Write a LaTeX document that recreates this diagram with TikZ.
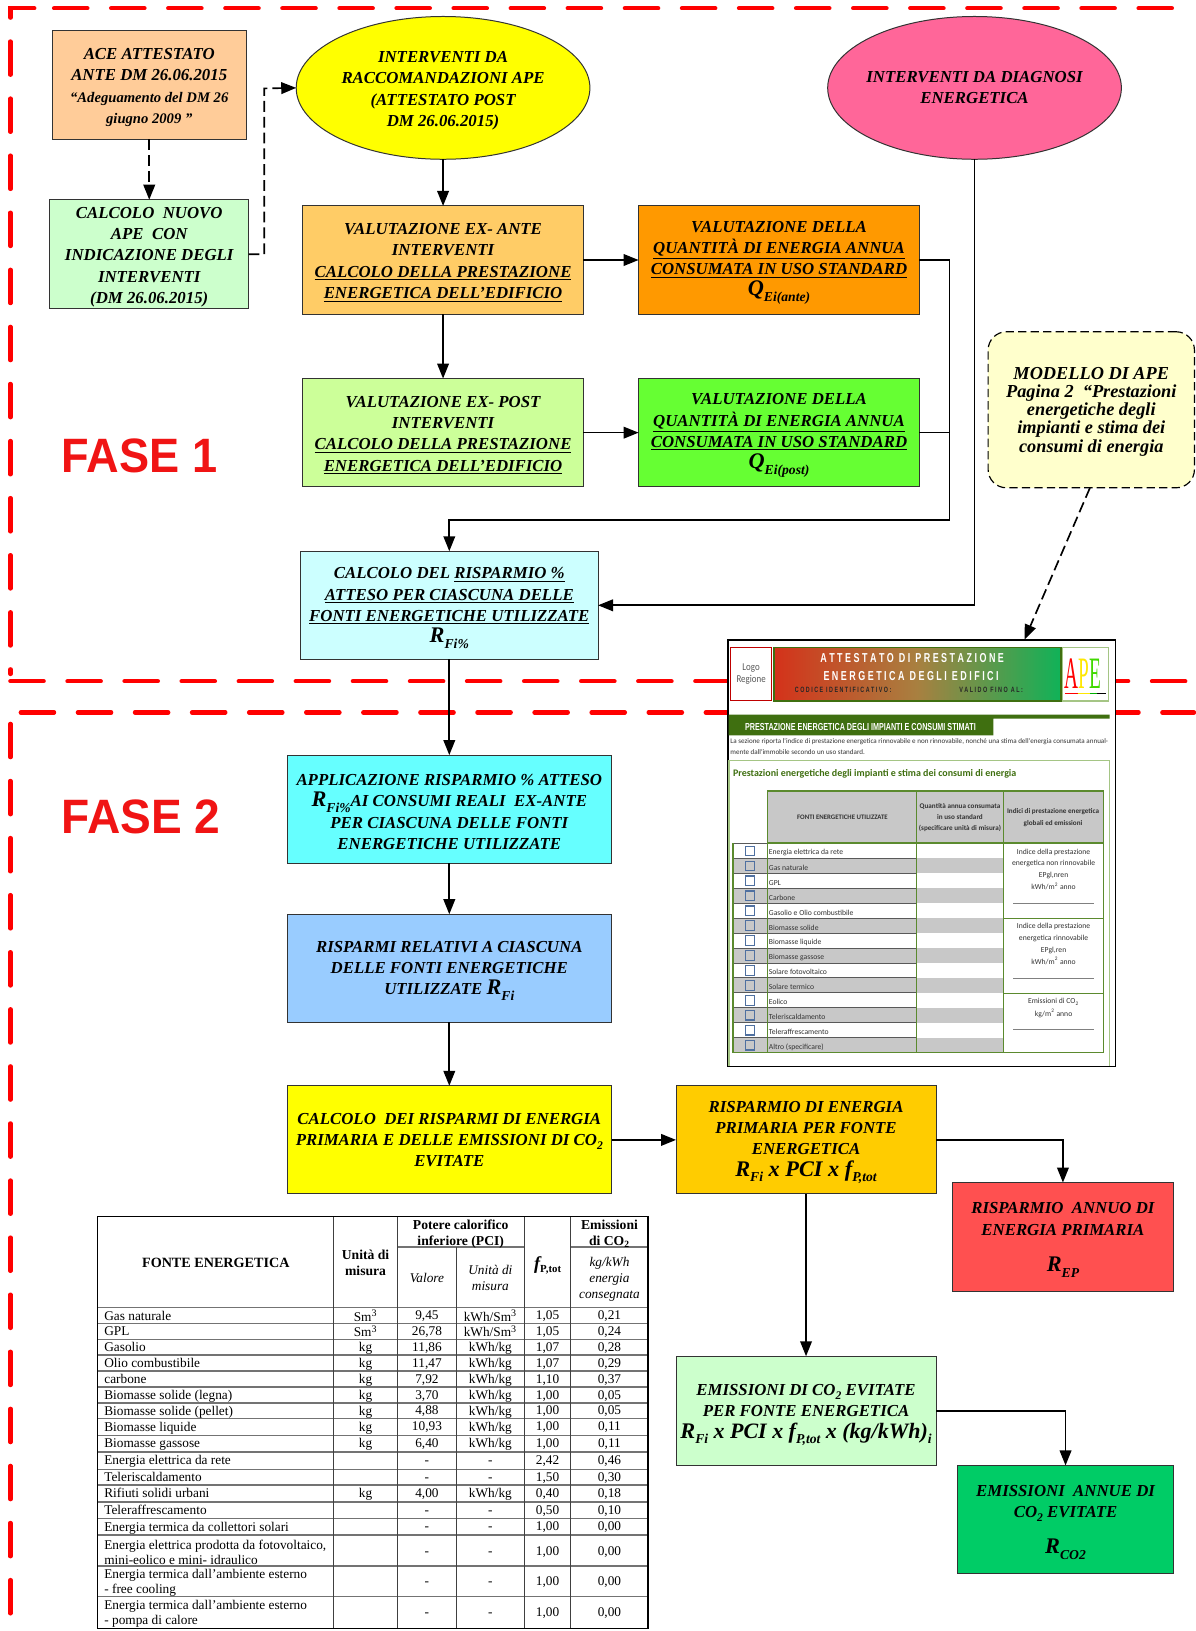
\documentclass[tikz,border=0pt]{standalone}
\usepackage{fontspec}
\usepackage{graphicx}
\setmainfont{Liberation Serif}
\newfontfamily\hvfont{Liberation Sans}
\newfontfamily\apefont{Carlito}
\usetikzlibrary{arrows.meta,shapes.geometric,fit,calc}
\definecolor{fase}{HTML}{F01414}
\definecolor{cYel}{HTML}{FFFF00}
\definecolor{cAce}{HTML}{FFCC99}
\definecolor{cMint}{HTML}{CCFFCC}
\definecolor{cPink}{HTML}{FF6699}
\definecolor{cExa}{HTML}{FFCC66}
\definecolor{cOra}{HTML}{FF9900}
\definecolor{cLime}{HTML}{CCFF99}
\definecolor{cGrn}{HTML}{66FF33}
\definecolor{cNote}{HTML}{FFFFCC}
\definecolor{cPale}{HTML}{CCFFFF}
\definecolor{cCyan}{HTML}{66FFFF}
\definecolor{cSky}{HTML}{99CCFF}
\definecolor{cAmb}{HTML}{FFCC00}
\definecolor{cRed}{HTML}{FF5050}
\definecolor{cEmer}{HTML}{00CC66}
\definecolor{aDark}{HTML}{3F6F10}
\definecolor{aGrn}{HTML}{5B8A2E}
\definecolor{aLight}{HTML}{A5C585}
\definecolor{aGray}{HTML}{C8C8C8}
\definecolor{aBlue}{HTML}{4F70A0}
\definecolor{bnL}{HTML}{D4321A}
\definecolor{bnM}{HTML}{A88040}
\definecolor{bnR}{HTML}{10B258}
\definecolor{pureRed}{HTML}{FF0000}
\tikzset{
  redline/.style={draw=pureRed,line width=2.6pt,line cap=round,dash pattern=on 20pt off 14.3pt},
  bx/.style={draw=black!80,line width=.6pt,inner sep=0pt,outer sep=0pt,align=center,
    font=\fontsize{10.1}{12.75}\selectfont\bfseries\itshape},
  elli/.style={ellipse,draw=black!80,line width=.6pt,inner sep=0pt,outer sep=0pt,align=center,
    minimum width=176.5pt,minimum height=85.8pt,font=\fontsize{10.1}{12.75}\selectfont\bfseries\itshape},
  arr/.style={draw=black,line width=1pt,-{Triangle[length=9pt,width=7pt]}},
  lin/.style={draw=black,line width=1pt},
  darr/.style={draw=black,line width=1pt,dash pattern=on 6.5pt off 3pt,-{Triangle[length=9pt,width=7pt]}},
  fasetxt/.style={text=fase,font=\hvfont\fontsize{29}{29}\selectfont\bfseries,anchor=west,inner sep=0pt},
  tc/.style={inner sep=0pt,font=\fontsize{8}{9}\selectfont},
  tb/.style={inner sep=0pt,align=center,font=\fontsize{8.2}{9.6}\selectfont\bfseries},
  ti/.style={inner sep=0pt,align=center,font=\fontsize{8}{9.6}\selectfont\itshape},
  hrule/.style={draw=black!55,line width=.85pt},
  vrule/.style={draw=black!75,line width=.6pt},
  ap/.style={inner sep=0pt,font=\apefont\fontsize{4.6}{5}\selectfont,text=black!80},
}
\newcommand\Fm[2]{{\fontsize{13.4}{13.4}\selectfont #1}\raisebox{-3.5pt}{\fontsize{8.2}{8.2}\selectfont #2}}
\newcommand\Up{\rule{0pt}{10pt}}
\newcommand\BX[7]{\node[bx,fill=#6,minimum width={(#4-#2)*0.625pt},minimum height={(#5-#3)*0.625pt}] (#1) at ({(#2+#4)/2},{(#3+#5)/2}) {\Up #7};}
\newcommand\TR[8]{%
  \node[tc,anchor=west,align=left] (#1n) at (100,#2+1) {\vphantom{Ag}#3};
  \node[tc] (#1u) at (351.5,#2+1) {\vphantom{Ag}#4};
  \node[tc] (#1v) at (410.5,#2+1) {\vphantom{Ag}#5};
  \node[tc] (#1m) at (471.5,#2+1) {\vphantom{Ag}#6};
  \node[tc] (#1f) at (526.5,#2+1) {\vphantom{Ag}#7};
  \node[tc] (#1e) at (586,#2+1) {\vphantom{Ag}#8};
}
\newcommand\SmT{Sm\textsuperscript{3}}
\newcommand\CTwo{\raisebox{-2.5pt}{\fontsize{7}{7}\selectfont 2}}
\begin{document}
\begin{tikzpicture}[x=0.625pt,y=-0.625pt]
\useasboundingbox (0,0) rectangle (1149.1,1568.2);
\fill[white] (0,0) rectangle (1149.1,1568.2);
% phase borders
\draw[redline] (33,8) -- (10,8) -- (10,648);
\draw[redline] (52,8) -- (1131,8);
\draw[redline] (10,655) -- (1143,655);
\draw[redline] (20,685) -- (1148,685);
\draw[redline] (10,696) -- (10,1568);
\node[fasetxt] (f1) at (59,438) {\scalebox{.935}[1]{FASE 1}};
\node[fasetxt] (f2) at (59,785) {\scalebox{.955}[1]{FASE 2}};
% boxes
\BX{ace}{50}{29}{237}{134}{cAce}{ACE ATTESTATO\\ANTE DM 26.06.2015\\{\fontsize{8.8}{12.75}\selectfont “Adeguamento del DM 26}\\{\fontsize{8.8}{12.75}\selectfont giugno 2009 ”}}
\BX{nuovo}{48}{192}{239}{297}{cMint}{CALCOLO\ \ NUOVO\\APE\ \ CON\\INDICAZIONE DEGLI\\INTERVENTI\\(DM 26.06.2015)}
\node[elli,fill=cYel] (rac) at (426,84.5) {\Up INTERVENTI DA\\RACCOMANDAZIONI APE\\(ATTESTATO POST\\DM 26.06.2015)};
\node[elli,fill=cPink] (dia) at (937,84.5) {\makebox[0pt]{INTERVENTI DA DIAGNOSI}\\\makebox[0pt]{ENERGETICA}};
\BX{exa}{291}{198}{561}{302}{cExa}{VALUTAZIONE EX- ANTE\\INTERVENTI\\\underline{CALCOLO DELLA PRESTAZIONE}\\\underline{ENERGETICA DELL’EDIFICIO}}
\BX{qa}{614}{198}{884}{302}{cOra}{VALUTAZIONE DELLA\\\underline{QUANTITÀ DI ENERGIA ANNUA}\\\underline{CONSUMATA IN USO STANDARD}\\\Fm{Q}{Ei(ante)}}
\BX{exp}{291}{364}{561}{468}{cLime}{VALUTAZIONE EX- POST\\INTERVENTI\\\underline{CALCOLO DELLA PRESTAZIONE}\\\underline{ENERGETICA DELL’EDIFICIO}}
\BX{qp}{614}{364}{884}{468}{cGrn}{VALUTAZIONE DELLA\\\underline{QUANTITÀ DI ENERGIA ANNUA}\\\underline{CONSUMATA IN USO STANDARD}\\\Fm{Q}{Ei(post)}}
\node[draw=black,line width=.7pt,dash pattern=on 5pt off 2.5pt,rounded corners=11pt,fill=cNote,inner sep=0pt,outer sep=0pt,align=center,
  font=\fontsize{11}{11}\selectfont\bfseries\itshape,minimum width=124pt,minimum height=93.75pt] (mod) at (1049.25,394)
  {\rule{0pt}{9.4pt}MODELLO DI APE\\Pagina 2\ \ “Prestazioni\\energetiche degli\\impianti e stima dei\\consumi di energia};
\BX{ris}{289}{530}{575}{634}{cPale}{CALCOLO DEL \underline{RISPARMIO \%}\\\underline{ATTESO PER CIASCUNA DELLE}\\\underline{FONTI ENERGETICHE UTILIZZATE}\\\Fm{R}{Fi\%}}
\BX{app}{276}{726}{588}{830}{cCyan}{APPLICAZIONE RISPARMIO \% ATTESO\\\Fm{R}{Fi\%}AI CONSUMI REALI\ \ EX-ANTE\\PER CIASCUNA DELLE FONTI\\ENERGETICHE UTILIZZATE}
\BX{rel}{276}{879}{588}{983}{cSky}{RISPARMI RELATIVI A CIASCUNA\\DELLE FONTI ENERGETICHE\\UTILIZZATE \Fm{R}{Fi}}
\node[bx,fill=cYel,minimum width=195pt,minimum height=65pt] (cal) at (432,1096) {CALCOLO\ \ DEI RISPARMI DI ENERGIA\\PRIMARIA E DELLE EMISSIONI DI CO\CTwo\\EVITATE};
\BX{pri}{650}{1044}{900}{1148}{cAmb}{RISPARMIO DI ENERGIA\\PRIMARIA PER FONTE\\ENERGETICA\\\Fm{R}{Fi}{\fontsize{13.4}{13.4}\selectfont\ x PCI x f}\raisebox{-3.5pt}{\fontsize{8.2}{8.2}\selectfont P,tot}}
\BX{ann}{916}{1137}{1128}{1242}{cRed}{RISPARMIO\ \ ANNUO DI\\ENERGIA PRIMARIA\\[9pt]\Fm{R}{EP}}
\BX{emi}{650}{1304}{900}{1409}{cMint}{\rule{0pt}{12pt}EMISSIONI DI CO\CTwo{} EVITATE\\PER FONTE ENERGETICA\\\Fm{R}{Fi}{\fontsize{13.2}{13.2}\selectfont\ x PCI x f}\raisebox{-3.5pt}{\fontsize{8.2}{8.2}\selectfont P,tot}{\fontsize{13.2}{13.2}\selectfont\ x (kg/kWh)}\raisebox{-3.5pt}{\fontsize{8.2}{8.2}\selectfont i}}
\BX{ean}{921}{1409}{1128}{1513}{cEmer}{EMISSIONI\ \ ANNUE DI\\CO\CTwo{} EVITATE\\[9pt]\Fm{R}{CO2}}
% APE form image
\node[draw=black,line width=.8pt,fill=white,inner sep=0pt,outer sep=0pt,fit={(700,615.5)(1072.5,1025.5)}] (form) {};
\node[draw=red!75!black,line width=.6pt,fill=white,inner sep=0pt,align=center,text=black!65,font=\apefont\fontsize{6.3}{7.2}\selectfont,minimum width=24.6pt,minimum height=32.2pt] (logo) at (722.2,648.2) {\scalebox{.85}[1]{Logo}\\\scalebox{.85}[1]{Regione}};
\node[draw=aDark,line width=1pt,left color=bnL,right color=bnR,middle color=bnM,inner sep=0pt,fit={(744,622.5)(1020,674)}] (banner) {};
\node[inner sep=0pt,text=white,font=\hvfont\fontsize{7.8}{8}\selectfont\bfseries] (bt1) at (877,633) {\scalebox{.69}[1]{A T T E S T A T O\ \ D I\ \ P R E S T A Z I O N E}};
\node[inner sep=0pt,text=white,font=\hvfont\fontsize{7.8}{8}\selectfont\bfseries] (bt2) at (876,650) {\scalebox{.69}[1]{E N E R G E T I C A\ \ D E G L I\ \ E D I F I C I}};
\node[inner sep=0pt,text=black!85,font=\hvfont\fontsize{4.6}{5}\selectfont\bfseries,anchor=west] (bt3) at (764,663.5) {\scalebox{.7}[1]{C O D I C E\ \ I D E N T I F I C A T I V O :}};
\node[inner sep=0pt,text=black!85,font=\hvfont\fontsize{4.6}{5}\selectfont\bfseries,anchor=west] (bt4) at (922,663.5) {\scalebox{.71}[1]{V A L I D O\ \ F I N O\ \ A L :}};
\node[draw=aLight,line width=.7pt,fill=white,inner sep=0pt,fit={(1021.5,622.5)(1066,674)}] (apebox) {};
\node[inner sep=0pt,font=\fontsize{20}{20}\selectfont] (apelogo) at (1041,648) {\scalebox{.58}[1.35]{\textcolor{pureRed}{A}\textcolor{yellow!90!orange}{P}\textcolor{green!70!yellow!85!black}{E}}};
\draw[pureRed,line width=.8pt] (1024,666.5) -- (1036,666.5);
\draw[yellow!90!orange,line width=.8pt] (1036,666.5) -- (1048,666.5);
\draw[green!70!black,line width=.8pt] (1048,666.5) -- (1055,666.5);
\draw[black,line width=.8pt] (1055,666.5) -- (1063,666.5);
\fill[aDark] (700.5,687) -- (1067,687) -- (1067,691) -- (955,691) -- (955,707) -- (700.5,707) -- cycle;
\node[inner sep=0pt,text=white,font=\hvfont\fontsize{6.1}{6.5}\selectfont\bfseries,anchor=west] (ft0) at (716,699) {\scalebox{.71}[1]{PRESTAZIONE ENERGETICA DEGLI IMPIANTI E CONSUMI STIMATI}};
\node[ap,anchor=west,font=\apefont\fontsize{4.25}{5}\selectfont] (ft1) at (702,713) {La sezione riporta l'indice di prestazione energetica rinnovabile e non rinnovabile, nonché una stima dell'energia consumata annual-};
\node[ap,anchor=west,font=\apefont\fontsize{4.25}{5}\selectfont] (ft2) at (702,723.4) {mente dall'immobile secondo un uso standard.};
\draw[aLight,line width=.8pt] (701,1025) -- (701,731) -- (1067,731) -- (1067,1025);
\node[inner sep=0pt,text=aDark,font=\apefont\fontsize{6}{7}\selectfont\bfseries,anchor=west] (ft3) at (704.5,743.6) {Prestazioni energetiche degli impianti e stima dei consumi di energia};
\fill[aGray] (738,760.6) rectangle (1061,810.5);
\node[ap,font=\apefont\fontsize{4.1}{5}\selectfont\bfseries] (th1) at (810,786) {FONTI ENERGETICHE UTILIZZATE};
\node[ap,align=center,font=\apefont\fontsize{4.3}{6.8}\selectfont\bfseries] (th2) at (923,786) {Quantità annua consumata\\in uso standard\\(specificare unità di misura)};
\node[ap,align=center,font=\apefont\fontsize{4.3}{7}\selectfont\bfseries] (th3) at (1012.5,786) {Indici di prestazione energetica\\globali ed emissioni};
\foreach \i/\n in {0/Energia elettrica da rete,1/Gas naturale,2/GPL,3/Carbone,4/Gasolio e Olio combustibile,5/Biomasse solide,6/Biomasse liquide,7/Biomasse gassose,8/Solare fotovoltaico,9/Solare termico,10/Eolico,11/Teleriscaldamento,12/Teleraffrescamento,13/Altro (specificare)}{
  \pgfmathsetmacro\yt{811+14.36*\i}
  \pgfmathsetmacro\yb{\yt+14.36}
  \pgfmathsetmacro\ym{\yt+9}
  \pgfmathsetmacro\yc{\yt+7.2}
  \pgfmathparse{int(mod(\i,2))}
  \ifnum\pgfmathresult=1
    \fill[aGray] (705,\yt) rectangle (964.7,\yb);
    \draw[draw=aBlue,line width=.7pt,fill=aGray] (717,\yc-4.6) rectangle (725.3,\yc+4.6);
  \else
    \draw[draw=aBlue,line width=.7pt,fill=white] (717,\yc-4.6) rectangle (725.3,\yc+4.6);
  \fi
  \draw[black!65,line width=.5pt] (705,\yt) -- (881.4,\yt);
  \node[ap,anchor=west] (row\i) at (739,\ym) {\n};
}
\draw[aGrn,line width=.9pt] (738,760.6) rectangle (1061,810.5);
\draw[aGrn,line width=.9pt] (881.4,760.6) -- (881.4,1012);
\draw[aGrn,line width=.9pt] (964.7,760.6) -- (964.7,1012);
\draw[aGrn,line width=.9pt] (738,810.5) -- (738,1012);
\draw[aGrn,line width=.9pt] (705,811) -- (705,1012) -- (1061,1012) -- (1061,810.5);
\draw[aGrn,line width=.9pt] (964.7,883) -- (1061,883);
\draw[aGrn,line width=.9pt] (964.7,955) -- (1061,955);
\node[ap,align=center,font=\apefont\fontsize{4.6}{7.2}\selectfont] (c1) at (1013,836) {Indice della prestazione\\energetica non rinnovabile\\EPgl,nren\\kWh/m\textsuperscript{2} anno};
\node[ap,align=center,font=\apefont\fontsize{4.6}{7.2}\selectfont] (c2) at (1013,907.5) {Indice della prestazione\\energetica rinnovabile\\EPgl,ren\\kWh/m\textsuperscript{2} anno};
\node[ap,align=center,font=\apefont\fontsize{4.6}{7.6}\selectfont] (c3) at (1013,969) {Emissioni di CO\textsubscript{2}\\kg/m\textsuperscript{2} anno};
\draw[black!50,line width=.6pt] (974,868.6) -- (1052,868.6);
\draw[black!50,line width=.6pt] (974,940.7) -- (1052,940.7);
\draw[black!50,line width=.6pt] (974,990) -- (1052,990);
% connectors
\coordinate (jn) at (254,85);
\coordinate (jq) at (913,500);
\coordinate (ms) at (1048,469);
\coordinate (ft) at (985,615);
\draw[darr] (ace.south -| nuovo.north) -- (nuovo.north);
\draw[darr] (nuovo.east) -| (jn) -- (rac.west);
\draw[arr] (rac.south) -- (exa.north);
\draw[arr] (exa.east) -- (qa.west);
\draw[arr] (exa.south) -- (exp.north);
\draw[arr] (exp.east) -- (qp.west);
\draw[arr] (qa.east) -| (jq) -| (ris.north);
\draw[lin] (qp.east) -- (qp.east -| jq);
\draw[arr] (dia.south) |- (ris.east);
\draw[darr] (ms) -- (ft);
\draw[arr] (ris.south) -- (app.north);
\draw[arr] (app.south) -- (rel.north);
\draw[arr] (rel.south) -- (cal.north);
\draw[arr] (cal.east) -- (pri.west);
\draw[arr] (pri.east) -| (ann.north);
\draw[arr] (pri.south) -- (emi.north);
\draw[arr] (emi.east) -| (ean.north);
% energy table
\foreach \yy in {1199}{\draw[hrule] (382,\yy) -- (504,\yy); \draw[hrule] (549,\yy) -- (623,\yy);}
\foreach \yy in {1257.4,1272.8,1288,1303,1318,1333.7,1349,1364,1380,1396,1412.7,1428,1444,1460,1476,1505.8,1535}{\draw[hrule] (94,\yy) -- (623,\yy);}
\draw[vrule] (321,1170) -- (321,1565.6);
\draw[vrule] (382,1170) -- (382,1565.6);
\draw[vrule] (439,1199) -- (439,1565.6);
\draw[vrule] (504,1170) -- (504,1565.6);
\draw[vrule] (549,1170) -- (549,1565.6);
\draw[black,line width=.7pt] (94,1170) rectangle (623,1565.6);
\node[tb,font=\fontsize{8.5}{9.6}\selectfont\bfseries] (h1) at (207.5,1214) {FONTE ENERGETICA};
\node[tb] (h2) at (351.5,1214) {Unità di\\misura};
\node[tb] (h3) at (443,1186.5) {Potere calorifico\\inferiore (PCI)};
\node[tb] (h4) at (586,1186) {Emissioni\\di CO\textsubscript{2}};
\node[ti] (h5) at (410.5,1229) {Valore};
\node[ti] (h6) at (471.5,1229) {Unità di\\misura};
\node[inner sep=0pt,font=\fontsize{11}{11}\selectfont\bfseries\itshape] (h7) at (526.5,1216.5) {f\raisebox{-1.5pt}{\fontsize{6.5}{7}\selectfont\upshape P,tot}};
\node[ti] (h8) at (586,1230) {kg/kWh\\energia\\consegnata};
\TR{a}{1265.2}{Gas naturale}{\SmT}{9,45}{kWh/\SmT}{1,05}{0,21}
\TR{b}{1280.4}{GPL}{\SmT}{26,78}{kWh/\SmT}{1,05}{0,24}
\TR{c}{1295.6}{Gasolio}{kg}{11,86}{kWh/kg}{1,07}{0,28}
\TR{d}{1310.6}{Olio combustibile}{kg}{11,47}{kWh/kg}{1,07}{0,29}
\TR{e}{1326}{carbone}{kg}{7,92}{kWh/kg}{1,10}{0,37}
\TR{g}{1341.4}{Biomasse solide (legna)}{kg}{3,70}{kWh/kg}{1,00}{0,05}
\TR{h}{1356.6}{Biomasse solide (pellet)}{kg}{4,88}{kWh/kg}{1,00}{0,05}
\TR{i}{1372}{Biomasse liquide}{kg}{10,93}{kWh/kg}{1,00}{0,11}
\TR{j}{1388}{Biomasse gassose}{kg}{6,40}{kWh/kg}{1,00}{0,11}
\TR{k}{1404.2}{Energia elettrica da rete}{}{-}{-}{2,42}{0,46}
\TR{l}{1420.3}{Teleriscaldamento}{}{-}{-}{1,50}{0,30}
\TR{m}{1436}{Rifiuti solidi urbani}{kg}{4,00}{kWh/kg}{0,40}{0,18}
\TR{n}{1452}{Teleraffrescamento}{}{-}{-}{0,50}{0,10}
\TR{o}{1468}{Energia termica da collettori solari}{}{-}{-}{1,00}{0,00}
\TR{p}{1491.5}{Energia elettrica prodotta da fotovoltaico,\\mini-eolico e mini- idraulico}{}{-}{-}{1,00}{0,00}
\TR{q}{1521}{Energia termica dall'ambiente esterno\\- free cooling}{}{-}{-}{1,00}{0,00}
\TR{r}{1550.8}{Energia termica dall'ambiente esterno\\- pompa di calore}{}{-}{-}{1,00}{0,00}
\end{tikzpicture}
\end{document}
